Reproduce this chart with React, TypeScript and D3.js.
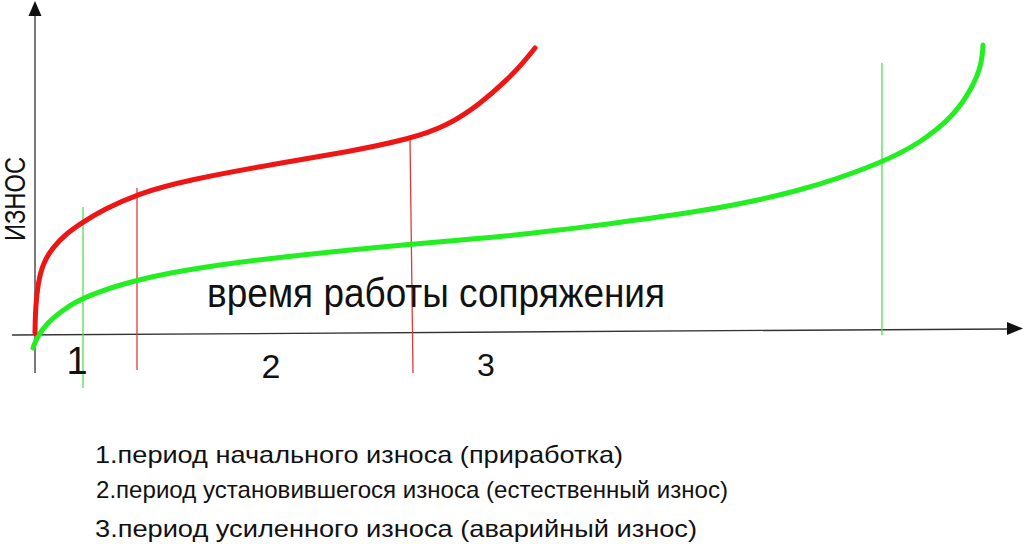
import React from "react";
import * as d3 from "d3";

// Data: time (t) vs wear (w)
const redT = [0, 0, 0.5, 3, 8, 18, 32, 48, 68, 102, 152, 245, 312, 375, 412, 445, 472, 488, 500, 500];
const redW = [2, 2, 28, 52, 72, 88, 102, 113, 125, 141, 155, 172, 183, 196, 209, 231, 255, 272, 287, 287];

const greenT = [-2, -2, 2, 12, 28, 48, 102, 168, 245, 375, 465, 525, 565, 665, 765, 847, 885, 918, 938, 947, 948, 948];
const greenW = [-13, -13, -2, 12, 25, 38, 56, 68, 78, 91, 98, 105, 110, 123, 143, 172, 192, 218, 248, 272, 290, 290];

// Period boundaries (time, top wear, bottom wear, bottom time)
const boundT = [48, 102, 375, 847];
const boundTopW = [128, 147, 196, 272];
const boundBottomW = [-53, -35, -38, 0];
const boundBottomT = [48, 102, 378, 847];
const boundKind = ["green", "red", "red", "green"];

const periodLabels = ["1", "2", "3"];
const periodLabelT = [42, 236, 451];
const periodLabelW = [-39, -43, -41];
const periodLabelSize = [38, 34, 32];

const axisXTitle = "время работы сопряжения";
const axisYTitle = "ИЗНОС";
const legendLines = [
  "1.период начального износа (приработка)",
  "2.период установившегося износа (естественный износ)",
  "3.период усиленного износа (аварийный износ)",
];

const W = 1024;
const H = 544;
const FONT = "'Liberation Sans', Arial, 'DejaVu Sans', sans-serif";

export default function App() {
  const x = d3.scaleLinear().domain([0, 987]).range([35, 1022]);
  const y = d3.scaleLinear().domain([0, 330]).range([335, 5]);

  const line = d3
    .line<[number, number]>()
    .x((d) => x(d[0]))
    .y((d) => y(d[1]))
    .curve(d3.curveBasis);

  const redPts = redT.map((t, i) => [t, redW[i]] as [number, number]);
  const greenPts = greenT.map((t, i) => [t, greenW[i]] as [number, number]);

  const colors: Record<string, string> = { red: "#e03a3a", green: "#55dd55" };

  const x0 = x(0);
  const y0 = y(0);
  const xEnd = x(987);

  const legendX = [95, 96, 95];
  const legendY = [463, 498, 537];
  const legendLen = [528, 632, 602];

  return (
    <svg
      width={W}
      height={H}
      style={{ position: "fixed", left: 0, top: 0, background: "#fff" }}
      fontFamily={FONT}
    >
      <rect width={W} height={H} fill="#fff" />
      {/* Axes */}
      <line x1={x0} y1={373} x2={x0} y2={14} stroke="#333" strokeWidth={1.3} />
      <polygon
        points={`${x0},1 ${x0 - 6.5},16 ${x0 + 6.5},16`}
        fill="#111"
      />
      <line x1={12} y1={y0} x2={xEnd - 14} y2={y0 - 6} stroke="#333" strokeWidth={1.3} />
      <polygon
        points={`${xEnd + 1},${y0 - 6.5} ${xEnd - 15},${y0 - 13} ${xEnd - 15},${y0}`}
        fill="#111"
      />

      {/* Period boundaries */}
      {boundT.map((t, i) => (
        <line
          key={i}
          x1={x(t)}
          y1={y(boundTopW[i])}
          x2={x(boundBottomT[i])}
          y2={y(boundBottomW[i])}
          stroke={colors[boundKind[i]]}
          strokeWidth={1.3}
        />
      ))}

      {/* Curves */}
      <path d={line(greenPts) || ""} fill="none" stroke="#22ee22" strokeWidth={5} strokeLinecap="round" />
      <path d={line(redPts) || ""} fill="none" stroke="#ee1515" strokeWidth={5} strokeLinecap="round" />

      {/* Period numbers */}
      {periodLabels.map((s, i) => (
        <text
          key={s}
          x={x(periodLabelT[i])}
          y={y(periodLabelW[i])}
          fontSize={periodLabelSize[i]}
          textAnchor="middle"
          fill="#111"
        >
          {s}
        </text>
      ))}

      {/* Axis titles */}
      <text
        x={207}
        y={307}
        fontSize={40}
        fill="#111"
        textLength={458}
        lengthAdjust="spacingAndGlyphs"
      >
        {axisXTitle}
      </text>
      <text
        transform="translate(25,199) rotate(-90)"
        fontSize={29}
        textAnchor="middle"
        fill="#111"
        textLength={84}
        lengthAdjust="spacingAndGlyphs"
      >
        {axisYTitle}
      </text>

      {/* Legend */}
      {legendLines.map((s, i) => (
        <text
          key={i}
          x={legendX[i]}
          y={legendY[i]}
          fontSize={24}
          fill="#111"
          textLength={legendLen[i]}
          lengthAdjust="spacingAndGlyphs"
        >
          {s}
        </text>
      ))}
    </svg>
  );
}
